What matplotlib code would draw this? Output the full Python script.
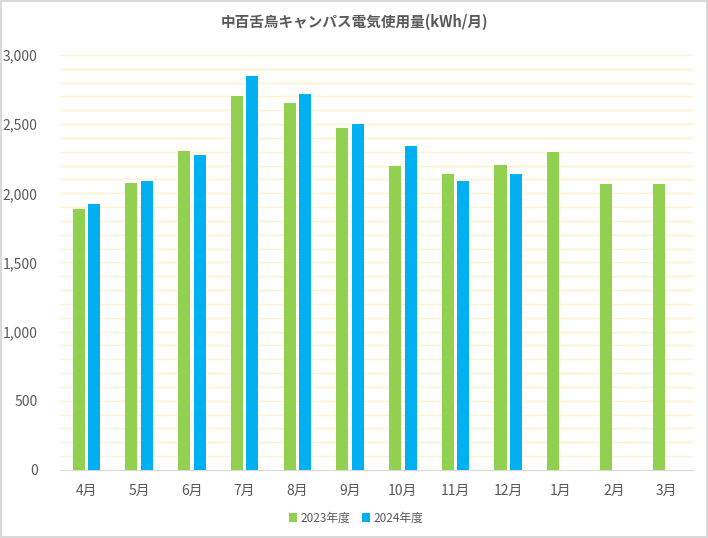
import numpy as np
import matplotlib.pyplot as plt
from matplotlib.ticker import MultipleLocator, FuncFormatter

plt.rcParams['font.family'] = ['Noto Sans CJK JP', 'DejaVu Sans']

# Monthly electricity usage (kWh/month)
months = ['4月', '5月', '6月', '7月', '8月', '9月', '10月', '11月', '12月', '1月', '2月', '3月']
usage_2023 = [1890, 2075, 2305, 2705, 2655, 2475, 2200, 2140, 2205, 2300, 2070, 2070]
usage_2024 = [1925, 2090, 2275, 2850, 2720, 2500, 2345, 2090, 2140]
labels = ['2023年度', '2024年度']

green = '#92D050'
blue = '#00B0F0'
text_col = '#595959'

fig = plt.figure(figsize=(7.08, 5.38), dpi=100)
ax = fig.add_axes([0.0847, 0.1264, 0.894, 0.7714])

x = np.arange(len(months))
w = 0.228
gap = 0.068
ax.bar(x[:len(usage_2023)] - (w + gap) / 2, usage_2023, w, color=green, label=labels[0], zorder=3)
ax.bar(x[:len(usage_2024)] + (w + gap) / 2, usage_2024, w, color=blue, label=labels[1], zorder=3)

ax.set_xlim(-0.5, len(months) - 0.5)
ax.set_ylim(0, 3000)
ax.set_xticks(x)
ax.set_xticklabels(months)
ax.yaxis.set_major_locator(MultipleLocator(500))
ax.yaxis.set_minor_locator(MultipleLocator(100))
ax.yaxis.set_major_formatter(FuncFormatter(lambda v, p: f'{int(v):,}'))
ax.grid(axis='y', which='both', color='#FFF2CC', linewidth=1, zorder=0)
ax.tick_params(axis='both', which='both', length=0, colors=text_col, labelsize=10)
ax.tick_params(axis='x', pad=10)
ax.tick_params(axis='y', pad=16)
for s in ['top', 'right', 'left']:
    ax.spines[s].set_visible(False)
ax.spines['bottom'].set_color('#D9D9D9')

fig.suptitle('中百舌鳥キャンパス電気使用量(kWh/月)', x=0.501, y=0.975, fontsize=10.5,
             color=text_col, fontweight='bold')
leg = fig.legend(loc='center', bbox_to_anchor=(0.503, 0.037), ncol=2, frameon=False,
                 fontsize=8.5, handlelength=0.7, handleheight=0.7, handletextpad=0.3,
                 columnspacing=1.0)
for t in leg.get_texts():
    t.set_color(text_col)

fig.patches.append(plt.Rectangle((0.002, 0.002), 0.996, 0.996, transform=fig.transFigure,
                                 fill=False, edgecolor='#D9D9D9', linewidth=1.5))

fig.savefig('out.png', dpi=100)
